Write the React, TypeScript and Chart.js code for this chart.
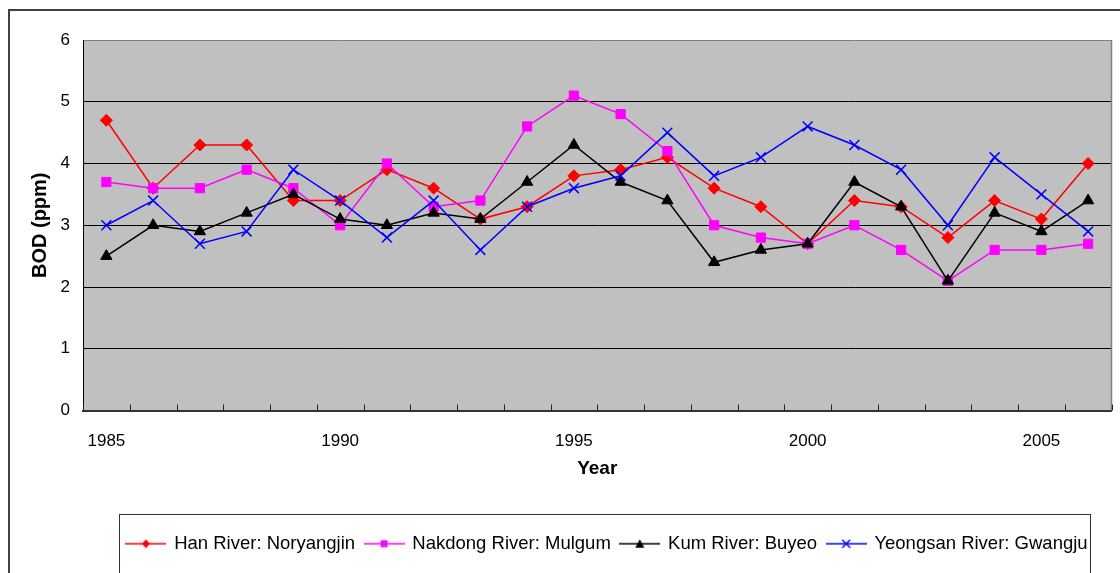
import React, { useEffect, useRef } from 'react';
import { Chart, registerables } from 'chart.js';

Chart.register(...registerables);

const years = ['1985', '1986', '1987', '1988', '1989', '1990', '1991', '1992', '1993', '1994', '1995', '1996', '1997', '1998', '1999', '2000', '2001', '2002', '2003', '2004', '2005', '2006'];
const han = [4.7, 3.6, 4.3, 4.3, 3.4, 3.4, 3.9, 3.6, 3.1, 3.3, 3.8, 3.9, 4.1, 3.6, 3.3, 2.7, 3.4, 3.3, 2.8, 3.4, 3.1, 4.0];
const nakdong = [3.7, 3.6, 3.6, 3.9, 3.6, 3.0, 4.0, 3.3, 3.4, 4.6, 5.1, 4.8, 4.2, 3.0, 2.8, 2.7, 3.0, 2.6, 2.1, 2.6, 2.6, 2.7];
const kum = [2.5, 3.0, 2.9, 3.2, 3.5, 3.1, 3.0, 3.2, 3.1, 3.7, 4.3, 3.7, 3.4, 2.4, 2.6, 2.7, 3.7, 3.3, 2.1, 3.2, 2.9, 3.4];
const yeongsan = [3.0, 3.4, 2.7, 2.9, 3.9, 3.4, 2.8, 3.4, 2.6, 3.3, 3.6, 3.8, 4.5, 3.8, 4.1, 4.6, 4.3, 3.9, 3.0, 4.1, 3.5, 2.9];
const seriesLabels = ['Han River: Noryangjin', 'Nakdong River: Mulgum', 'Kum River: Buyeo', 'Yeongsan River: Gwangju'];
const seriesColors = ['#ff0000', '#ff00ff', '#000000', '#0000ff'];
const yTicks = [0, 1, 2, 3, 4, 5, 6];
const xTitle = 'Year';
const yTitle = 'BOD (ppm)';

const FONT = "'Liberation Sans', Arial, sans-serif";

function makeIcon(color: string, shape: string): HTMLCanvasElement {
  const c = document.createElement('canvas');
  c.width = 41;
  c.height = 14;
  const g = c.getContext('2d')!;
  g.strokeStyle = color;
  g.fillStyle = color;
  g.lineWidth = 1.5;
  g.beginPath();
  g.moveTo(0, 7);
  g.lineTo(41, 7);
  g.stroke();
  const cx = 20.5, cy = 7;
  g.beginPath();
  if (shape === 'diamond') {
    g.moveTo(cx, cy - 4.5);
    g.lineTo(cx + 4, cy);
    g.lineTo(cx, cy + 4.5);
    g.lineTo(cx - 4, cy);
    g.closePath();
    g.fill();
  } else if (shape === 'square') {
    g.fillRect(cx - 3.5, cy - 3.5, 7, 7);
  } else if (shape === 'triangle') {
    g.moveTo(cx, cy - 4.5);
    g.lineTo(cx + 4.5, cy + 4);
    g.lineTo(cx - 4.5, cy + 4);
    g.closePath();
    g.fill();
  } else {
    g.moveTo(cx - 4, cy - 4);
    g.lineTo(cx + 4, cy + 4);
    g.moveTo(cx + 4, cy - 4);
    g.lineTo(cx - 4, cy + 4);
    g.stroke();
  }
  return c;
}

const framePlugin = {
  id: 'frame',
  afterLayout(chart: any) {
    const lg = chart.legend;
    if (lg) {
      lg.left += 10;
      lg.right += 10;
    }
  },
  beforeDraw(chart: any) {
    const { ctx, chartArea: a } = chart;
    ctx.save();
    ctx.fillStyle = '#ffffff';
    ctx.fillRect(0, 0, chart.width, chart.height);
    ctx.fillStyle = '#c0c0c0';
    ctx.fillRect(a.left, a.top, a.right - a.left, a.bottom - a.top);
    ctx.restore();
  },
  afterDraw(chart: any) {
    const { ctx, chartArea: a } = chart;
    ctx.save();
    // right plot border
    ctx.strokeStyle = '#808080';
    ctx.lineWidth = 1.5;
    ctx.beginPath();
    ctx.moveTo(a.right, a.top);
    ctx.lineTo(a.right, a.bottom);
    ctx.stroke();
    // inward x ticks at category boundaries
    const xs = chart.scales.x;
    ctx.strokeStyle = '#222';
    ctx.lineWidth = 1;
    ctx.beginPath();
    for (let i = 0; i <= years.length; i++) {
      const px = Math.round(xs.getPixelForValue(i - 0.5)) + 0.5;
      ctx.moveTo(px, a.bottom);
      ctx.lineTo(px, a.bottom - 6);
    }
    ctx.stroke();
    // legend frame
    const lg = chart.legend;
    if (lg && lg.legendHitBoxes && lg.legendHitBoxes.length) {
      const hb = lg.legendHitBoxes;
      const l = hb[0].left - 8;
      const r = hb[hb.length - 1].left + hb[hb.length - 1].width + 2;
      const t = hb[0].top - 21;
      ctx.strokeStyle = '#333';
      ctx.lineWidth = 1;
      ctx.strokeRect(Math.round(l) + 0.5, Math.round(t) + 0.5, Math.round(r - l), 200);
    }
    // outer frame
    ctx.strokeStyle = '#404040';
    ctx.lineWidth = 2;
    ctx.strokeRect(9, 10, 1300, 1000);
    ctx.restore();
  },
};

export default function App() {
  const ref = useRef<HTMLCanvasElement | null>(null);
  useEffect(() => {
    if (!ref.current) return;
    const icons = [
      makeIcon(seriesColors[0], 'diamond'),
      makeIcon(seriesColors[1], 'square'),
      makeIcon(seriesColors[2], 'triangle'),
      makeIcon(seriesColors[3], 'cross'),
    ];
    const base = { borderWidth: 1.5, tension: 0, fill: false, pointBorderWidth: 1 };
    const chart = new Chart(ref.current, {
      type: 'line',
      data: {
        labels: years,
        datasets: [
          { ...base, label: seriesLabels[0], data: han, borderColor: seriesColors[0], backgroundColor: seriesColors[0], pointStyle: 'rectRot', pointRadius: 6, order: 4 },
          { ...base, label: seriesLabels[1], data: nakdong, borderColor: seriesColors[1], backgroundColor: seriesColors[1], pointStyle: 'rect', pointRadius: 6.5, order: 3 },
          { ...base, label: seriesLabels[2], data: kum, borderColor: seriesColors[2], backgroundColor: seriesColors[2], pointStyle: 'triangle', pointRadius: 6.5, order: 2 },
          { ...base, label: seriesLabels[3], data: yeongsan, borderColor: seriesColors[3], backgroundColor: seriesColors[3], pointStyle: 'crossRot', pointRadius: 7, pointBorderWidth: 1.5, order: 1 },
        ],
      } as any,
      options: {
        animation: false,
        responsive: false,
        devicePixelRatio: 1,
        layout: { padding: { top: 40, right: 8, left: 0, bottom: 10 } },
        plugins: {
          legend: {
            position: 'bottom',
            fullSize: false,
            labels: {
              usePointStyle: true,
              pointStyleWidth: 38,
              padding: 10,
              color: '#000',
              font: { size: 18.5, family: FONT },
              generateLabels: (c: any) =>
                c.data.datasets.map((ds: any, i: number) => ({
                  text: ds.label,
                  pointStyle: icons[i],
                  fillStyle: ds.borderColor,
                  strokeStyle: ds.borderColor,
                  lineWidth: 0,
                  hidden: false,
                  datasetIndex: i,
                })),
            },
          },
          tooltip: { enabled: false },
        },
        scales: {
          x: {
            type: 'category',
            offset: true,
            grid: { display: true, drawOnChartArea: false, drawTicks: false },
            border: { display: true, color: '#333', width: 2 },
            ticks: {
              autoSkip: false,
              maxRotation: 0,
              padding: 21,
              color: '#000',
              font: { size: 17, family: FONT },
              callback: (_v: any, i: number) => (i % 5 === 0 ? years[i] : ''),
            },
            title: { display: true, text: xTitle, color: '#000', font: { size: 19, weight: 'bold', family: FONT }, padding: { top: 0, bottom: 44 } },
            afterFit: (s: any) => { s.height = 114; },
          },
          y: {
            min: yTicks[0],
            max: yTicks[yTicks.length - 1],
            afterBuildTicks: (s: any) => { s.ticks = yTicks.map((v) => ({ value: v })); },
            ticks: { padding: 13, color: '#000', font: { size: 17, family: FONT } },
            grid: {
              drawTicks: false,
              lineWidth: 1,
              color: (c: any) => (c.tick && c.tick.value === 6 ? '#808080' : '#000'),
            },
            border: { color: '#000', width: 1 },
            title: { display: true, text: yTitle, color: '#000', font: { size: 20, weight: 'bold', family: FONT }, padding: { top: 28, bottom: 0 } },
            afterFit: (s: any) => { s.width = 83; },
          },
        },
      } as any,
      plugins: [framePlugin],
    });
    return () => chart.destroy();
  }, []);
  return (
    <div style={{ position: 'fixed', left: 0, top: 0, width: 1120, height: 573, overflow: 'hidden', background: '#fff' }}>
      <canvas ref={ref} width={1120} height={573} style={{ width: 1120, height: 573, display: 'block' }} />
    </div>
  );
}
